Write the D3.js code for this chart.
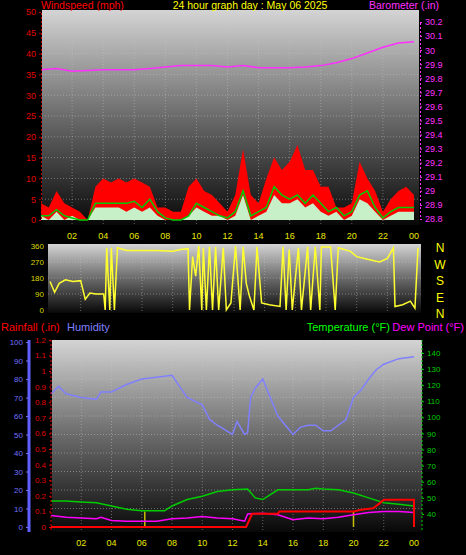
<!DOCTYPE html>
<html><head><meta charset="utf-8">
<script src="https://cdn.jsdelivr.net/npm/d3@7"></script>
<style>body{margin:0;background:#000}svg{display:block}text{font-family:"Liberation Sans",Arial,sans-serif}</style>
</head><body><svg id="c" width="466" height="555"></svg>
<script>
const hourLabels = ['02','04','06','08','10','12','14','16','18','20','22','00']
const halfHours = d3.range(0, 24.5, 0.5)
const gust = [4,3,7,4,3,2,0,8,10,9,10,9,10,9,8,3,3,2,2,8,10,7,6,4,2,6,17,6,4,10,15,12,14,18,12,12,8,8,3,3,4,14,10,7,2,5,7,8,6]
const avgWind = [1,1,2.5,1,0.5,0,0,4,4,4,4,4,4.5,3,5,2,0.5,0,0,1,4,3,2,1,0.5,2,7,1,2,3,8,6,5,6,4,6,4,2,3,1,2,6,7,3,0.5,2,3,3,3]
const windSpeed = [1,0,2,0,1,0,0,3,3,3,3,2,3,2,3,1,0,0,0,1,3,2,1,1,0,1,6,0,1,2,6,4,4,5,3,4,2,1,2,0,1,5,4,2,0,1,2,2,2]
const baroHours = d3.range(0, 25)
const baro = [29.86,29.87,29.85,29.855,29.86,29.86,29.86,29.87,29.88,29.89,29.89,29.89,29.88,29.89,29.875,29.875,29.875,29.88,29.89,29.91,29.94,29.98,30.02,30.05,30.06]
const dirTime = [0,0.3,0.6,1,1.5,2,2.3,2.6,3,3.5,3.6,3.7,3.9,4,4.2,4.4,5,6,7,8,8.5,9,9.1,9.3,9.5,9.7,9.9,10,10.2,10.4,10.6,10.8,11,11.3,11.5,11.8,12.1,12.4,12.6,12.8,13,13.3,13.5,13.8,14.3,15,15.2,15.4,15.6,15.8,16.2,16.4,16.8,17,17.3,17.6,17.7,18.3,18.6,18.8,19.6,20,20.5,21,21.5,22,22.4,22.5,23,23.5,23.8,24]
const dirDeg = [160,100,150,170,160,165,60,95,90,90,0,350,0,350,0,350,335,335,335,330,340,345,0,300,190,360,0,350,0,355,0,355,0,350,0,40,360,0,355,150,80,0,355,40,30,20,355,0,340,0,350,0,355,0,355,0,355,355,0,350,330,300,290,280,270,290,350,20,30,50,10,350]
const humTime = [0,0.5,1,2,3,3.3,4,5,6,7,8,8.5,9,10,10.5,11,12,12.3,12.8,13,13.2,13.5,14,14.5,15,15.5,16,16.5,17,17.5,18,18.5,19,19.5,20,20.5,21,21.5,22,23,24]
const humidity = [72,76,72,70,69,73,73,77,80,81,82,76,70,66,58,55,50,57,50,51,70,75,80,70,60,55,50,54,55,55,52,52,55,58,70,74,80,85,88,91,92]
const tempTime = [0,1,2,3,4,5,6,7,7.5,8,9,10,11,12,13,13.5,14,14.5,15,16,17,17.5,18,19,20,21,22,23,24]
const temperature = [48,48,47.5,47,45,43,42,42,42,45,49,51,54,55,55.5,50,49,52,55,55,55,56,55.5,55,53,50,47,46,45]
const dewTime = [0,1,2,3,3.3,4,5,6,7,8,9,10,11,12,12.8,13,14,15,16,17,18,19,20,21,22,23,24]
const dewPoint = [39,38,37.5,37,38,36,35.5,35.5,35.5,37,37.5,38.5,37.5,37,35.5,40,40.5,39.5,36.5,37.5,37,38,39.5,41,41.5,41.5,41]
const rainTime = [0,12.9,13.3,15,15.1,20,20.5,21.3,21.7,22,24,24]
const rain = [0,0,0.085,0.085,0.1,0.1,0.11,0.12,0.15,0.175,0.175,0]
const rateTime = [6.2,20]
const rainRate = [0.1,0.1]

const svg = d3.select('#c')
const defs = svg.append('defs')
const grad = defs.append('linearGradient').attr('id','bg').attr('x1',0).attr('x2',0).attr('y1',0).attr('y2',1)
grad.append('stop').attr('offset','0%').attr('stop-color','#d4d4d4')
grad.append('stop').attr('offset','50%').attr('stop-color','#6a6a6a')
grad.append('stop').attr('offset','100%').attr('stop-color','#080808')

function panel(x0, y0, x1, y1, xs, yTicks) {
    svg.append('rect').attr('x',x0).attr('y',y0).attr('width',x1-x0).attr('height',y1-y0).attr('fill','url(#bg)')
    const g = svg.append('g').attr('stroke','#c8c8c8').attr('stroke-opacity',0.45).attr('stroke-dasharray','1,2')
    d3.range(2, 24, 2).forEach(h => g.append('line').attr('x1',xs(h)).attr('x2',xs(h)).attr('y1',y0).attr('y2',y1))
    yTicks.forEach(y => g.append('line').attr('x1',x0).attr('x2',x1).attr('y1',y).attr('y2',y))
}
function hourAxis(xs, y) {
    svg.append('g').selectAll('text').data(hourLabels).join('text')
        .attr('x',(d,i) => xs(2*i+2)).attr('y',y).attr('text-anchor','middle')
        .attr('fill','#e8e800').attr('font-size',9).text(d => d)
}
function label(x, y, t, c, anchor='start', size=11) {
    svg.append('text').attr('x',x).attr('y',y).attr('fill',c).attr('font-size',size).attr('text-anchor',anchor).text(t)
}

// ---- top panel: wind + barometer
const x1 = d3.scaleLinear().domain([0,24]).range([41,414])
const yW = d3.scaleLinear().domain([0,50]).range([220,12])
const yB = d3.scaleLinear().domain([28.8,30.2]).range([219,22])
panel(42, 10, 419, 225, x1, d3.range(5,50,5).map(yW))
svg.append('path').datum(halfHours).attr('fill','#ff0000')
    .attr('d', d3.area().x(h => x1(h)).y0(yW(0)).y1((h,i) => yW(gust[i])))
svg.append('path').datum(halfHours).attr('fill','#c8f0c8')
    .attr('d', d3.area().x(h => x1(h)).y0(yW(0)).y1((h,i) => yW(windSpeed[i])))
svg.append('path').datum(halfHours).attr('fill','none').attr('stroke','#00cc00').attr('stroke-width',1.5)
    .attr('d', d3.line().x(h => x1(h)).y((h,i) => yW(avgWind[i])))
svg.append('path').datum(baroHours).attr('fill','none').attr('stroke','#ff30ff').attr('stroke-width',1.5)
    .attr('d', d3.line().x(h => x1(h)).y((h,i) => yB(baro[i])))
const aW = svg.append('g').attr('transform','translate(41,0)').call(d3.axisLeft(yW).tickValues(d3.range(0,51,5)).tickSize(2))
aW.selectAll('text').attr('fill','#e00000').attr('font-size',9)
aW.selectAll('line,path').attr('stroke','#c00000').attr('stroke-dasharray','2,2')
const aB = svg.append('g').attr('transform','translate(420,0)').call(d3.axisRight(yB).tickValues(d3.range(28.8,30.21,0.1)).tickFormat(d3.format('~g')).tickSize(2))
aB.selectAll('text').attr('fill','#ff30ff').attr('font-size',9)
aB.selectAll('line,path').attr('stroke','#ff30ff').attr('stroke-dasharray','2,2')
hourAxis(x1, 239)
label(41, 9, 'Windspeed (mph)', '#ff0000', 'start', 10.5)
label(250, 9, '24 hour graph day : May 06 2025', '#ffff00', 'middle', 10.5)
label(439, 9, 'Barometer (.in)', '#ff30ff', 'end', 10.5)

// ---- wind direction panel
const x2 = d3.scaleLinear().domain([0,24]).range([50,418])
const yD = d3.scaleLinear().domain([0,360]).range([310,246])
panel(48, 244, 421, 313, x2, [90,180,270].map(yD))
svg.append('path').datum(dirTime).attr('fill','none').attr('stroke','#ffff30').attr('stroke-width',1.5)
    .attr('d', d3.line().x(t => x2(t)).y((t,i) => yD(dirDeg[i])))
const aD = svg.append('g').attr('transform','translate(47,0)').call(d3.axisLeft(yD).tickValues([0,90,180,270,360]).tickSize(0))
aD.selectAll('text').attr('fill','#d8d800').attr('font-size',8)
aD.select('path').remove()
;['N','W','S','E','N'].forEach((c,i) => label(440, 252+i*16.5, c, '#ffff00', 'middle', 12))

// ---- bottom panel: rain, humidity, temperature, dew point
const x3 = d3.scaleLinear().domain([0,24]).range([51,414])
const yH = d3.scaleLinear().domain([0,100]).range([527,342])
const yR = d3.scaleLinear().domain([0,1]).range([527,371])
const yT = d3.scaleLinear().domain([40,140]).range([514,353])
panel(52, 340, 422, 532, x3, d3.range(10,101,10).map(yH))
svg.append('g').selectAll('line').data(rateTime).join('line')
    .attr('x1',t => x3(t)).attr('x2',t => x3(t)).attr('y1',yR(0)).attr('y2',(t,i) => yR(rainRate[i]))
    .attr('stroke','#c8c000').attr('stroke-width',1.5)
svg.append('path').datum(humTime).attr('fill','none').attr('stroke','#8080ff').attr('stroke-width',1.5)
    .attr('d', d3.line().x(t => x3(t)).y((t,i) => yH(humidity[i])))
svg.append('path').datum(tempTime).attr('fill','none').attr('stroke','#00cc00').attr('stroke-width',1.5)
    .attr('d', d3.line().x(t => x3(t)).y((t,i) => yT(temperature[i])))
svg.append('path').datum(dewTime).attr('fill','none').attr('stroke','#ff00ff').attr('stroke-width',1.5)
    .attr('d', d3.line().x(t => x3(t)).y((t,i) => yT(dewPoint[i])))
svg.append('path').datum(rainTime).attr('fill','none').attr('stroke','#ff0000').attr('stroke-width',2)
    .attr('d', d3.line().x(t => x3(t)).y((t,i) => yR(rain[i])))
const aH = svg.append('g').attr('transform','translate(29,0)').call(d3.axisLeft(yH).tickValues(d3.range(0,101,10)).tickSize(3))
aH.selectAll('text').attr('fill','#7070ff').attr('font-size',8)
aH.selectAll('line').attr('stroke','#7070ff')
aH.select('path').attr('stroke','#6060ff').attr('stroke-width',3).attr('d','M0,340V532')
const aR = svg.append('g').attr('transform','translate(51,0)').call(d3.axisLeft(yR).tickValues(d3.range(0,1.21,0.1)).tickFormat(d3.format('~g')).tickSize(2))
aR.selectAll('text').attr('fill','#e00000').attr('font-size',8)
aR.selectAll('line,path').attr('stroke','#e00000').attr('stroke-dasharray','2,2')
aR.select('path').attr('d','M0,340V532')
const aT = svg.append('g').attr('transform','translate(422,0)').call(d3.axisRight(yT).tickValues(d3.range(40,141,10)).tickSize(2))
aT.selectAll('text').attr('fill','#00cc00').attr('font-size',8)
aT.selectAll('line,path').attr('stroke','#00cc00').attr('stroke-dasharray','2,2')
aT.select('path').attr('d','M0,340V532')
hourAxis(x3, 546)
label(1, 331, 'Rainfall (.in)', '#ff0000')
label(67, 331, 'Humidity', '#8080ff')
label(390, 331, 'Temperature (°F)', '#00ff00', 'end')
label(464, 331, 'Dew Point (°F)', '#ff00ff', 'end')
</script></body></html>
